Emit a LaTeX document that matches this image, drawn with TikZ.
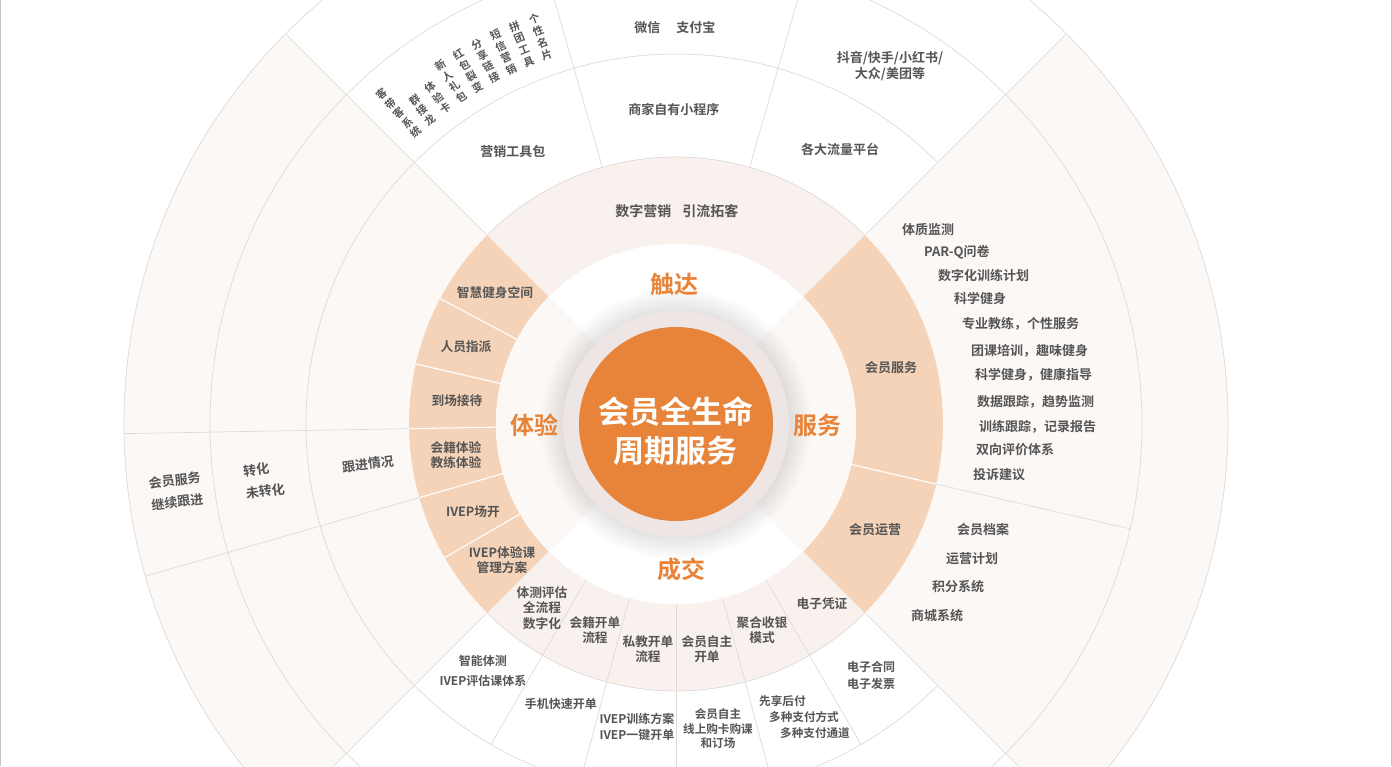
\documentclass[tikz,border=0pt]{standalone}
\usepackage{fontspec}
\setmainfont{Noto Sans CJK SC}[BoldFont={Noto Sans CJK SC Bold}]
\usetikzlibrary{positioning}

\definecolor{mainorange}{HTML}{E8843A}
\definecolor{peach}{HTML}{F5D3B8}
\definecolor{blush}{HTML}{F9F1ED}
\definecolor{sidetint}{HTML}{FCF8F6}
\definecolor{halo}{HTML}{EEE6E4}
\definecolor{linegray}{HTML}{DDDBDA}
\definecolor{txtgray}{HTML}{555555}

% annular sector: colour, start angle, end angle, inner radius, outer radius
\newcommand{\ringsector}[5]{\fill[#1] (#2:#4) arc[start angle=#2, end angle=#3, radius=#4] -- (#3:#5) arc[start angle=#3, end angle=#2, radius=#5] -- cycle;}

\tikzset{
  lbl/.style={font=\bfseries\fontsize{13}{16}\selectfont, text=txtgray, align=center, inner sep=0pt},
  ringlbl/.style={lbl, font=\bfseries\fontsize{12.7}{15.5}\selectfont},
  outlbl/.style={lbl, font=\bfseries\fontsize{12}{15}\selectfont},
  paylbl/.style={lbl, font=\bfseries\fontsize{11.6}{14.5}\selectfont},
  vcol/.style={lbl, font=\bfseries\fontsize{10.6}{12.6}\selectfont, anchor=south},
  stage/.style={font=\bfseries\fontsize{24}{28}\selectfont, text=mainorange, inner sep=0pt},
  sepline/.style={draw=linegray, line width=0.7pt},
  whitesep/.style={draw=white, line width=1.1pt}
}

\begin{document}
\begin{tikzpicture}[x=1pt, y=1pt]
  % Define frame and centre
  \clip (-676,-342) rectangle (716,424);
  \fill[white] (-676,-342) rectangle (716,424);
  \coordinate (ctr) at (0,0);

  % Tint of the outer left and right quadrants
  \ringsector{sidetint}{135}{225}{267}{552}
  \ringsector{sidetint}{-45}{45}{267}{552}

  % Second ring, one colour per stage
  \ringsector{blush}{45}{135}{180}{267}
  \ringsector{blush}{225}{315}{180}{267}
  \ringsector{peach}{135}{225}{180}{267}
  \ringsector{peach}{-45}{45}{180}{267}

  % Inner white ring
  \fill[white] (ctr) circle (180);
  \ringsector{sidetint}{135}{225}{113}{180}
  \ringsector{sidetint}{-45}{45}{113}{180}

  % Soft shadow round the hub
  \foreach \k in {1,...,14}
    \fill[black, opacity=0.009] (ctr) circle ({112+1.7*\k});
  \fill[halo] (ctr) circle (113);
  \node[circle, fill=mainorange, minimum size=194, inner sep=0pt] (hub) at (ctr) {};
  \node[font=\bfseries\fontsize{31}{39}\selectfont, text=white, align=center, inner sep=0pt] (hubtext) at (0,-7) {会员全生命\\周期服务};

  % Ring borders
  \draw[sepline] (45:267) arc[start angle=45, end angle=135, radius=267];
  \draw[sepline] (225:267) arc[start angle=225, end angle=315, radius=267];
  \draw[sepline] (45:370) arc[start angle=45, end angle=315, radius=370];
  \draw[sepline] (ctr) circle (466);
  \draw[sepline] (ctr) circle (552);

  % Quadrant borders and splits
  \foreach \a in {45,135,225,315}
    \draw[sepline] (\a:267) -- (\a:552);
  \foreach \a in {74,106}
    \draw[sepline] (\a:267) -- (\a:466);
  \foreach \a in {152,167,181,196,210,-13}
    \draw[whitesep] (\a:180) -- (\a:267);
  \foreach \a in {181,196}
    \draw[sepline] (\a:267) -- (\a:552);
  \draw[sepline] (-13:267) -- (-13:466);
  \foreach \a in {240,255,...,300}
    \draw[sepline] (\a:180) -- (\a:370);

  % Stage names
  \node[stage] (chuda) at (-1,140) {触达};
  \node[stage] (tiyan) at (-141,-1) {体验};
  \node[stage] (fuwu) at (141,-1) {服务};
  \node[stage] (chengjiao) at (6,-145) {成交};

  % Reach quadrant
  \node[lbl, font=\bfseries\fontsize{14}{16}\selectfont] (digital) at (1,213) {数字营销\hspace{11pt}引流拓客};
  \node[lbl] (toolkit) at (-163,272) {营销工具包};
  \node[lbl] (miniapp) at (-2,314) {商家自有小程序};
  \node[lbl] (traffic) at (164,275) {各大流量平台};
  \node[lbl] (wechat) at (-1,396) {微信\hspace{16pt}支付宝};
  \node[lbl] (douyin) at (214,358) {抖音/快手/小红书/\\大众/美团等};
  \foreach \txt [count=\i from 0] in {{个\\性\\名\\片}, {拼\\团\\工\\具}, {短\\信\\营\\销}, {分\\享\\链\\接}, {红\\包\\裂\\变}, {新\\人\\礼\\包}, {体\\验\\卡}, {群\\接\\龙}, {客\\带\\客\\系\\统}}
    \node[vcol, rotate={19.3+2.8*\i}] (tool\i) at ({109.3+2.8*\i}:386) {\txt};

  % Experience quadrant
  \node[ringlbl] (space) at (-181,131) {智慧健身空间};
  \node[ringlbl] (assign) at (-210,77) {人员指派};
  \node[ringlbl] (reception) at (-219,23) {到场接待};
  \node[ringlbl] (trial) at (-220,-31) {会籍体验\\教练体验};
  \node[ringlbl] (ivepopen) at (-203,-88) {IVEP场开};
  \node[ringlbl] (ivepplan) at (-174,-136) {IVEP体验课\\管理方案};
  \node[lbl, rotate=7] (follow) at (-308,-40) {跟进情况};
  \node[lbl, align=left, rotate=7, font=\bfseries\fontsize{13}{22}\selectfont] (convert) at (-412,-56) {转化\\未转化};
  \node[lbl, rotate=7, font=\bfseries\fontsize{13}{22}\selectfont] (keepon) at (-500,-67) {会员服务\\继续跟进};

  % Service quadrant
  \node[lbl] (member) at (215,56) {会员服务};
  \node[lbl] (operate) at (199,-106) {会员运营};
  \foreach \txt/\x/\y [count=\i] in {体质监测/226/194, PAR-Q问卷/248/172, 数字化训练计划/262/148, 科学健身/278/125, 专业教练，个性服务/286/100, 团课培训，趣味健身/295/73, 科学健身，健康指导/299/49, 数据跟踪，趋势监测/301/22, 训练跟踪，记录报告/303/-3, 双向评价体系/300/-26, 投诉建议/297/-51, 会员档案/281/-106, 运营计划/270/-135, 积分系统/256/-163, 商城系统/235/-192}
    \node[lbl, anchor=west] (svc\i) at (\x,\y) {\txt};

  % Deal quadrant
  \node[ringlbl] (assess) at (-134,-184) {体测评估\\全流程\\数字化};
  \node[ringlbl] (mship) at (-81,-206) {会籍开单\\流程};
  \node[ringlbl] (pt) at (-28,-225) {私教开单\\流程};
  \node[ringlbl] (self) at (31,-225) {会员自主\\开单};
  \node[ringlbl] (cashier) at (86,-206) {聚合收银\\模式};
  \node[ringlbl] (voucher) at (146,-180) {电子凭证};
  \node[outlbl, font=\bfseries\fontsize{12}{20}\selectfont] (bodytest) at (-193,-247) {智能体测\\IVEP评估课体系};
  \node[outlbl] (phone) at (-115,-280) {手机快速开单};
  \node[outlbl, font=\bfseries\fontsize{12}{16.5}\selectfont] (iveptrain) at (-39,-303) {IVEP训练方案\\IVEP一键开单};
  \node[paylbl] (online) at (42,-305) {会员自主\\线上购卡购课\\和订场};
  \node[paylbl, anchor=west] (payfirst) at (83,-277) {先享后付};
  \node[paylbl, anchor=west] (payways) at (93,-293) {多种支付方式};
  \node[paylbl, anchor=west] (paychan) at (104,-309) {多种支付通道};
  \node[outlbl, font=\bfseries\fontsize{12}{17}\selectfont] (contract) at (195,-251) {电子合同\\电子发票};

  % Side edges of the frame
  \draw[gray!45, line width=1.5pt] (-675.25,-342) -- (-675.25,424);
  \draw[gray!45, line width=1.5pt] (715.25,-342) -- (715.25,424);
\end{tikzpicture}
\end{document}
